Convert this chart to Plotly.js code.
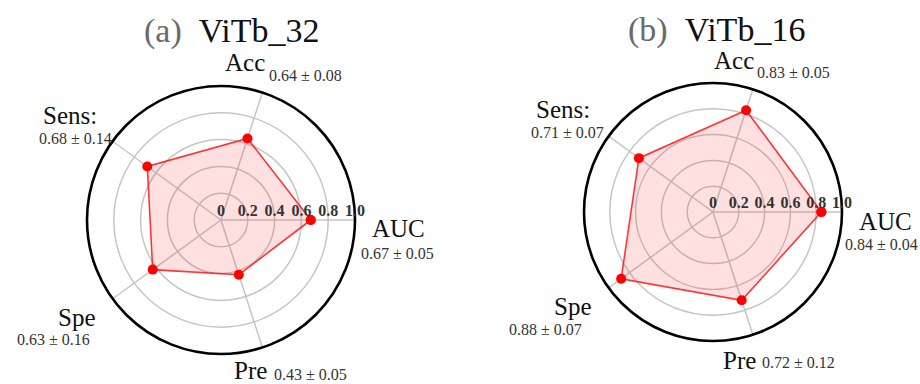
<!DOCTYPE html>
<html>
<head>
<meta charset="utf-8">
<script src="https://cdn.plot.ly/plotly-3.0.1.min.js"></script>
<style>
  html, body { margin: 0; padding: 0; background: #ffffff; }
  #chart { width: 920px; height: 384px; }
</style>
</head>
<body>
<div id="chart"></div>
<script>
// Metric axes of the radar charts (counter-clockwise from AUC)
const metrics = ['AUC', 'Acc', 'Sens', 'Spe', 'Pre'];
const metricLabels = ['AUC', 'Acc', 'Sens:', 'Spe', 'Pre'];

// ViTb_32: mean and standard deviation per metric
const vitb32Mean = [0.67, 0.64, 0.68, 0.63, 0.43];
const vitb32Std  = [0.05, 0.08, 0.14, 0.16, 0.05];

// ViTb_16: mean and standard deviation per metric
const vitb16Mean = [0.84, 0.83, 0.71, 0.88, 0.72];
const vitb16Std  = [0.04, 0.05, 0.07, 0.07, 0.12];

// Radial tick labels
const radialTicks = [0, 0.2, 0.4, 0.6, 0.8, 1.0];
const radialTickText = ['0', '0.2', '0.4', '0.6', '0.8', '1.0'];

const W = 920, H = 384;
const px = x => x / W;
const py = y => 1 - y / H;

function closed(arr) { return arr.concat([arr[0]]); }

function radarTrace(values, subplot) {
  return {
    type: 'scatterpolar',
    subplot: subplot,
    r: closed(values),
    theta: closed(metrics),
    mode: 'lines+markers',
    fill: 'toself',
    fillcolor: 'rgba(255,0,0,0.12)',
    line: { color: 'rgba(255,20,20,0.85)', width: 1.6 },
    marker: { color: '#ff0000', size: 10 },
    hoverinfo: 'skip',
    showlegend: false
  };
}

function polarLayout(xDom, yDom) {
  return {
    domain: { x: xDom, y: yDom },
    bgcolor: 'rgba(0,0,0,0)',
    angularaxis: {
      type: 'category',
      categoryarray: metrics,
      rotation: 0,
      direction: 'counterclockwise',
      showticklabels: false,
      ticks: '',
      showgrid: true,
      gridcolor: '#c6c6c6',
      gridwidth: 1.5,
      showline: true,
      linecolor: '#000000',
      linewidth: 2.6
    },
    radialaxis: {
      range: [0, 1],
      angle: 0,
      side: 'counterclockwise',
      tickvals: radialTicks,
      ticktext: radialTickText,
      ticks: '',
      showline: false,
      showgrid: true,
      gridcolor: '#c6c6c6',
      gridwidth: 1.5,
      tickfont: { family: 'Liberation Serif', size: 16, color: '#333333', weight: 'bold' }
    }
  };
}

// Label anchor positions (page pixels): [nameX, nameY, valueX, valueY]
const leftLabelPos = [
  [398, 228, 397, 253],
  [245, 62, 305, 76],
  [70, 115, 75, 138],
  [77, 317, 53, 339],
  [251, 370, 310, 374]
];
const rightLabelPos = [
  [885, 221, 881, 244],
  [734, 60, 793, 72],
  [563, 109, 567, 132],
  [573, 306, 545, 329],
  [739, 360, 798, 362]
];

function metricAnnotations(means, stds, pos) {
  const out = [];
  metricLabels.forEach((name, i) => {
    const p = pos[i];
    out.push({
      xref: 'paper', yref: 'paper', x: px(p[0]), y: py(p[1]),
      xanchor: 'center', yanchor: 'middle', showarrow: false,
      text: name,
      font: { family: 'Liberation Serif', size: 25, color: '#111111' }
    });
    out.push({
      xref: 'paper', yref: 'paper', x: px(p[2]), y: py(p[3]),
      xanchor: 'center', yanchor: 'middle', showarrow: false,
      text: means[i].toFixed(2) + ' ± ' + stds[i].toFixed(2),
      font: { family: 'Liberation Serif', size: 16, color: '#333333' }
    });
  });
  return out;
}

function titleAnnotation(tag, name, x, y) {
  return {
    xref: 'paper', yref: 'paper', x: px(x), y: py(y),
    xanchor: 'center', yanchor: 'middle', showarrow: false,
    text: '<span style="color:#6a6a6a">' + tag + '</span>\u2002' + name,
    font: { family: 'Liberation Serif', size: 34, color: '#111111' }
  };
}

const data = [
  radarTrace(vitb32Mean, 'polar'),
  radarTrace(vitb16Mean, 'polar2')
];

const layout = {
  width: W,
  height: H,
  margin: { l: 0, r: 0, t: 0, b: 0 },
  paper_bgcolor: '#ffffff',
  font: { family: 'Liberation Serif' },
  polar: polarLayout([87 / W, 355 / W], [1 - 354 / H, 1 - 86 / H]),
  polar2: polarLayout([584 / W, 842 / W], [1 - 341 / H, 1 - 83 / H]),
  annotations: [
    titleAnnotation('(a)', 'ViTb_32', 231, 31),
    titleAnnotation('(b)', 'ViTb_16', 716, 30)
  ].concat(
    metricAnnotations(vitb32Mean, vitb32Std, leftLabelPos),
    metricAnnotations(vitb16Mean, vitb16Std, rightLabelPos)
  )
};

Plotly.newPlot('chart', data, layout, { displayModeBar: false, staticPlot: true });
</script>
</body>
</html>
